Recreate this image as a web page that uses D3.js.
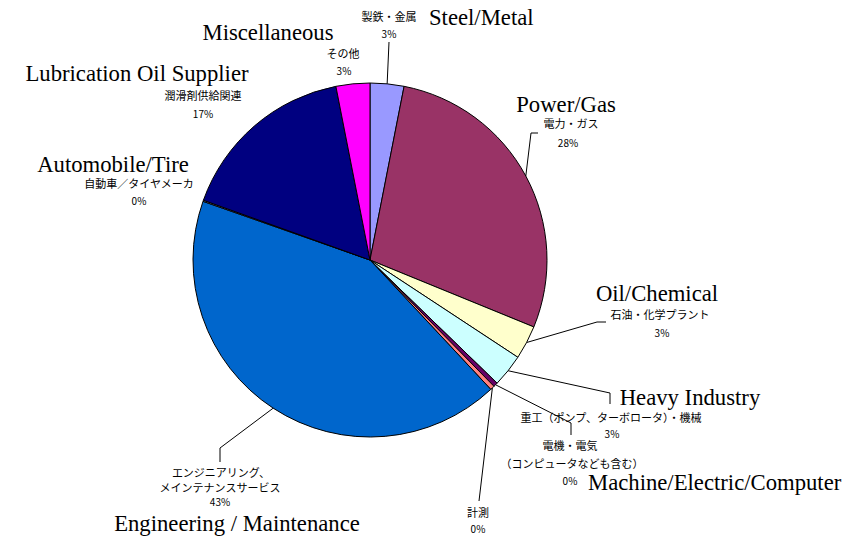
<!DOCTYPE html>
<head>
  <meta charset="utf-8">
  <title>Pie</title>
  <style>
    body { margin: 0; background: #fff; }
    .en { font-family: "Liberation Serif", serif; font-size: 22.7px; }
    .jp { font-family: "Noto Sans CJK JP", sans-serif; font-size: 11px; }
    .pct { font-family: "Noto Sans CJK JP", sans-serif; font-size: 10px; }
  </style>
</head>
<body>
  <script src="https://d3js.org/d3.v7.min.js"></script>
  <script>
  // slices, clockwise from 12 o'clock
  const keys = ["steel", "power", "oil", "heavy", "machine", "measure", "eng", "auto", "lube", "misc"];
  const values = [3.1, 28.2, 3.1, 3.0, 0.4, 0.4, 42.5, 0.1, 16.5, 3.1];
  const pctLabels = ["3%", "28%", "3%", "3%", "0%", "0%", "43%", "0%", "17%", "3%"];
  const enLabels = ["Steel/Metal", "Power/Gas", "Oil/Chemical", "Heavy Industry",
    "Machine/Electric/Computer", "", "Engineering / Maintenance", "Automobile/Tire",
    "Lubrication Oil Supplier", "Miscellaneous"];
  const jpLabels = [["製鉄・金属"], ["電力・ガス"], ["石油・化学プラント"], ["重工（ポンプ、ターボロータ）・機械"],
    ["電機・電気", "（コンピュータなども含む）"], ["計測"], ["エンジニアリング、", "メインテナンスサービス"],
    ["自動車／タイヤメーカ"], ["潤滑剤供給関連"], ["その他"]];
  const colors = ["#9999FF", "#993366", "#FFFFCC", "#CCFFFF", "#660066", "#FF8080", "#0066CC", "#CCCCFF", "#000080", "#FF00FF"];

  // label layout: english label pos, japanese line centres, pct centre, leader elbow points
  const layout = {
    steel:   { en: [429, 17, "start"], jp: [[389, 16]], pct: [389, 33], leader: [[389, 42]] },
    power:   { en: [566, 104, "middle"], jp: [[571, 123]], pct: [568, 142], leader: [[538, 133], [531, 133]] },
    oil:     { en: [657, 293, "middle"], jp: [[660, 314]], pct: [662, 332], leader: [[606, 322], [597, 322]] },
    heavy:   { en: [690, 397, "middle"], jp: [[611, 417]], pct: [612, 433], leader: [[610, 404], [610, 393]] },
    machine: { en: [588, 482, "start"], jp: [[570, 445], [572, 463]], pct: [570, 480], leader: [[571, 435], [571, 423]] },
    measure: { en: null, jp: [[478, 512]], pct: [478, 528], leader: [[479, 501]] },
    eng:     { en: [237, 523, "middle"], jp: [[221, 472], [220, 487]], pct: [220, 501], leader: [[220, 462], [220, 448]] },
    auto:    { en: [113, 164, "middle"], jp: [[139, 183]], pct: [139, 200], leader: null },
    lube:    { en: [137, 73, "middle"], jp: [[203, 95]], pct: [203, 113], leader: null },
    misc:    { en: [268, 32, "middle"], jp: [[343, 53]], pct: [344, 70], leader: null }
  };

  const width = 865, height = 536;
  const cx = 370, cy = 260, r = 177;

  const svg = d3.select("body").append("svg")
    .attr("width", width)
    .attr("height", height);

  const pie = d3.pie().sort(null).value(d => d.value);
  const arcs = pie(keys.map((k, i) => ({ key: k, value: values[i], i: i })));
  const arc = d3.arc().innerRadius(0).outerRadius(r);

  const g = svg.append("g").attr("transform", `translate(${cx},${cy})`);
  g.selectAll("path")
    .data(arcs)
    .enter()
    .append("path")
    .attr("d", arc)
    .attr("fill", d => colors[d.data.i])
    .attr("stroke", "#000")
    .attr("stroke-width", 1)
    .attr("stroke-linejoin", "round");

  // leader lines
  arcs.forEach(d => {
    const L = layout[d.data.key];
    if (!L.leader) return;
    const a = (d.startAngle + d.endAngle) / 2;
    const end = [cx + r * Math.sin(a), cy - r * Math.cos(a)];
    const pts = L.leader.concat([end]);
    svg.append("path")
      .attr("d", d3.line()(pts))
      .attr("fill", "none")
      .attr("stroke", "#000")
      .attr("stroke-width", 1);
  });

  // labels
  keys.forEach((k, i) => {
    const L = layout[k];
    if (L.en && enLabels[i]) {
      svg.append("text").attr("class", "en")
        .attr("x", L.en[0]).attr("y", L.en[1])
        .attr("text-anchor", L.en[2])
        .attr("dominant-baseline", "central")
        .text(enLabels[i]);
    }
    jpLabels[i].forEach((t, j) => {
      svg.append("text").attr("class", "jp")
        .attr("x", L.jp[j][0]).attr("y", L.jp[j][1])
        .attr("text-anchor", "middle")
        .attr("dominant-baseline", "central")
        .text(t);
    });
    svg.append("text").attr("class", "pct")
      .attr("x", L.pct[0]).attr("y", L.pct[1])
      .attr("text-anchor", "middle")
      .attr("dominant-baseline", "central")
      .text(pctLabels[i]);
  });
  </script>
</body>
</html>
